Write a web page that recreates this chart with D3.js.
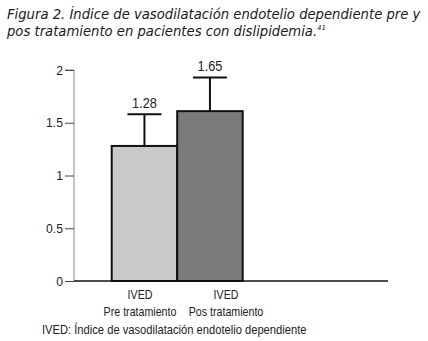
<!DOCTYPE html>
<html><head><meta charset="utf-8">
<script src="https://cdn.jsdelivr.net/npm/d3@7"></script>
<style>
body{margin:0;background:#fff;}
svg{display:block;}
</style></head>
<body>
<script>
const categories = ["IVED|Pre tratamiento", "IVED|Pos tratamiento"];
const values = [1.28, 1.61];
const errorTops = [1.58, 1.93];
const valueLabels = ["1.28", "1.65"];
const yTicks = [0, 0.5, 1, 1.5, 2];
const colors = ["#c9c9cb", "#7b7b7d"];

const W = 428, H = 341;
const svg = d3.select("body").append("svg").attr("width", W).attr("height", H);
const FONT = "Liberation Sans, Arial, sans-serif";

function ctext(px, py, str, anchor, size, sx) {
  return svg.append("text")
    .attr("transform", `translate(${px},${py}) scale(${sx || 0.84},1)`)
    .attr("font-family", FONT).attr("font-size", size || 13)
    .attr("text-anchor", anchor || "start").attr("fill", "#222").text(str);
}

// Title
const title = svg.append("text").attr("font-family", "DejaVu Sans, sans-serif")
  .attr("font-style", "italic").attr("font-size", 13.2).attr("fill", "#1a1a1a");
title.append("tspan").attr("x", 7).attr("y", 19).text("Figura 2. Índice de vasodilatación endotelio dependiente pre y");
const l2 = title.append("tspan").attr("x", 7).attr("y", 36).text("pos tratamiento en pacientes con dislipidemia.");
l2.append("tspan").attr("font-size", 7).attr("dy", -6).text("41");

const x0 = 74, xEnd = 388;
const y = d3.scaleLinear().domain([0, 2]).range([281, 70]);
const x = d3.scaleBand().domain(categories).range([111.7, 242.7]).paddingInner(0).paddingOuter(0);
const xLab = d3.scaleBand().domain(categories).range([97, 269]);

// y axis
const yAxis = d3.axisLeft(y).tickValues(yTicks).tickSize(9).tickFormat("");
const ga = svg.append("g").attr("transform", `translate(${x0},0)`).call(yAxis);
ga.select(".domain").attr("stroke", "#888").attr("stroke-width", 1).attr("d", `M-9,${y(2)}H0V${y(0)}`);
ga.selectAll(".tick line").attr("stroke", "#444");
yTicks.forEach(t => ctext(x0 - 11, y(t) + 4.5, String(t), "end", 13.5, 0.9));

// x axis line
svg.append("line").attr("x1", x0).attr("x2", xEnd).attr("y1", y(0)).attr("y2", y(0))
  .attr("stroke", "#111").attr("stroke-width", 1.3);

// bars
const bw = x.bandwidth();
svg.selectAll("rect.bar").data(categories).join("rect").attr("class", "bar")
  .attr("x", d => x(d)).attr("width", bw)
  .attr("y", (d, i) => y(values[i])).attr("height", (d, i) => y(0) - y(values[i]))
  .attr("fill", (d, i) => colors[i]).attr("stroke", "#111").attr("stroke-width", 2);

// error bars
categories.forEach((c, i) => {
  const cx = x(c) + bw / 2;
  svg.append("line").attr("x1", cx).attr("x2", cx).attr("y1", y(values[i])).attr("y2", y(errorTops[i]))
    .attr("stroke", "#111").attr("stroke-width", 2);
  svg.append("line").attr("x1", cx - 17).attr("x2", cx + 17).attr("y1", y(errorTops[i])).attr("y2", y(errorTops[i]))
    .attr("stroke", "#111").attr("stroke-width", 2);
  ctext(cx, y(errorTops[i]) - 6, valueLabels[i], "middle", 14.5, 0.88);
  const parts = c.split("|");
  const lx = xLab(c) + xLab.bandwidth() / 2;
  ctext(lx, 299, parts[0], "middle", 13, 0.82);
  ctext(lx, 316, parts[1], "middle", 13, 0.82);
});

ctext(42, 334, "IVED: Índice de vasodilatación endotelio dependiente", "start", 13, 0.86);
</script>
</body></html>
